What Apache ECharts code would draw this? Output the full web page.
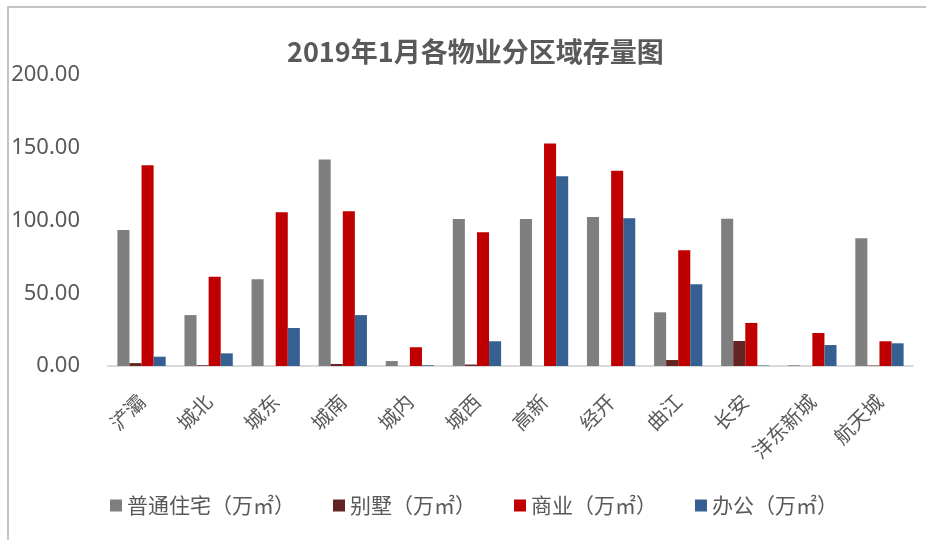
<!DOCTYPE html>
<html>
<head>
<meta charset="utf-8">
<script src="https://cdn.jsdelivr.net/npm/echarts@6/dist/echarts.min.js"></script>
<style>
  html, body { margin: 0; padding: 0; background: #fff; }
  #main { width: 926px; height: 540px; }
</style>
</head>
<body>
<div id="main"></div>
<script>
var categories = ['浐灞', '城北', '城东', '城南', '城内', '城西', '高新', '经开', '曲江', '长安', '沣东新城', '航天城'];
var seriesNames = ['普通住宅（万㎡）', '别墅（万㎡）', '商业（万㎡）', '办公（万㎡）'];
var residential = [93.5, 35, 59.6, 142, 3.4, 101, 101, 102.4, 36.9, 101.2, 0.5, 87.8];
var villa = [2, 0.5, 0, 1.4, 0, 1, 0, 0, 4.1, 17.2, 0, 0.3];
var commercial = [138, 61.4, 105.6, 106.3, 12.9, 92, 153, 134.2, 79.5, 29.6, 22.7, 17];
var office = [6.4, 8.7, 26.1, 35, 0.5, 17, 130.4, 101.5, 56.1, 0.3, 14.4, 15.6];
var colors = ['#7f7f7f', '#632523', '#c00000', '#366092'];

var chart = echarts.init(document.getElementById('main'));
var seriesData = [residential, villa, commercial, office];
var series = [];
for (var i = 0; i < seriesData.length; i++) {
    series.push({
        name: seriesNames[i],
        type: 'bar',
        data: seriesData[i],
        barGap: '0%',
        barCategoryGap: '28%',
        itemStyle: { color: colors[i] }
    });
}

chart.setOption({
    animation: false,
    backgroundColor: '#fff',
    textStyle: { fontFamily: '"Noto Sans CJK SC", "Noto Sans", sans-serif' },
    title: {
        text: '2019年1月各物业分区域存量图',
        left: 282,
        top: 33,
        textStyle: { fontSize: 27, fontWeight: 'bold', color: '#595959',
            fontFamily: '"Noto Sans CJK SC", sans-serif' }
    },
    graphic: [{
        type: 'polyline',
        shape: { points: [[8, 540], [8, 7], [926, 7]] },
        style: { stroke: '#c4c4c4', lineWidth: 2, fill: null }
    }],
    legend: {
        data: seriesNames,
        bottom: 19,
        left: 105,
        icon: 'rect',
        itemWidth: 12,
        itemHeight: 12,
        itemGap: 38,
        textStyle: { fontSize: 21, color: '#595959', fontFamily: '"Noto Sans CJK SC", sans-serif' }
    },
    grid: { left: 108, right: 13, top: 75, bottom: 174, containLabel: false },
    xAxis: {
        type: 'category',
        data: categories,
        axisLine: { lineStyle: { color: '#d9d9d9', width: 2 } },
        axisTick: { show: false },
        axisLabel: { rotate: 45, fontSize: 20, color: '#595959', margin: 32, interval: 0,
            fontFamily: '"Noto Sans CJK SC", sans-serif' }
    },
    yAxis: {
        type: 'value',
        min: 0,
        max: 200,
        interval: 50,
        axisLine: { show: false },
        axisTick: { show: false },
        splitLine: { show: false },
        axisLabel: {
            fontSize: 22, color: '#595959', margin: 28,
            fontFamily: '"Noto Sans", sans-serif',
            formatter: function (v) { return v.toFixed(2); }
        }
    },
    series: series
});
</script>
</body>
</html>
